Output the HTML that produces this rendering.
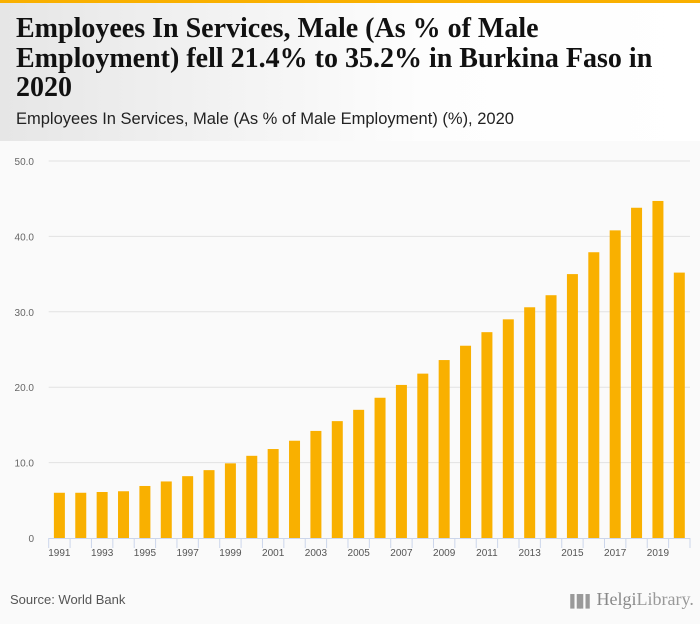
<!DOCTYPE html>
<html><head><meta charset="utf-8"><style>
body{margin:0;width:700px;height:624px;background:#fafafa;font-family:"Liberation Sans",sans-serif;overflow:hidden;position:relative}
#topbar{position:absolute;left:0;top:0;width:700px;height:3px;background:#f9b000}
#header{position:absolute;left:0;top:3px;width:700px;height:138px;background:linear-gradient(90deg,#e6e6e6,#fdfdfd 60%,#fff)}
#title{position:absolute;left:16px;top:14px;width:655px;font-family:"Liberation Serif",serif;font-weight:bold;font-size:28px;line-height:29.5px;color:#111}
#subtitle{position:absolute;left:16px;top:110px;font-size:16.5px;color:#222}
#source{position:absolute;left:10px;top:592px;font-size:13px;color:#555}
#logo{position:absolute;left:566px;top:589px;font-family:"Liberation Serif",serif;font-size:18px;color:#999;white-space:nowrap}
</style></head><body>
<div id="topbar"></div>
<div id="header"></div>
<div id="title">Employees In Services, Male (As % of Male Employment) fell 21.4% to 35.2% in Burkina Faso in 2020</div>
<div id="subtitle">Employees In Services, Male (As % of Male Employment) (%), 2020</div>
<svg id="chart" width="700" height="624" style="position:absolute;left:0;top:0"></svg>
<div id="source">Source: World Bank</div>
<div id="logo"><span style="font-size:12px;letter-spacing:-2px">▐▐▌▌</span> <span style="color:#888">Helgi</span>Library.</div>
<script>
const years=[1991,1992,1993,1994,1995,1996,1997,1998,1999,2000,2001,2002,2003,2004,2005,2006,2007,2008,2009,2010,2011,2012,2013,2014,2015,2016,2017,2018,2019,2020];
const values=[6.0,6.0,6.1,6.2,6.9,7.5,8.2,9.0,9.9,10.9,11.8,12.9,14.2,15.5,17.0,18.6,20.3,21.8,23.6,25.5,27.3,29.0,30.6,32.2,35.0,37.9,40.8,43.8,44.7,35.2];
const yTicks=[0,10,20,30,40,50];
const yTickLabels=["0","10.0","20.0","30.0","40.0","50.0"];
const svg=document.getElementById('chart');
const NS='http://www.w3.org/2000/svg';
const x0=48.7,x1=690,y0=538,yTop=161,yMax=50;
const step=(x1-x0)/years.length;
const X=i=>x0+step*(i+0.5);
const Y=v=>y0-(v/yMax)*(y0-yTop);
function mk(t,a){const e=document.createElementNS(NS,t);for(const k in a)e.setAttribute(k,a[k]);svg.appendChild(e);return e;}
yTicks.forEach((t,i)=>{
  if(t>0){const g=mk('line',{x1:x0,x2:x1,y1:Y(t),y2:Y(t),stroke:'#e2e2e2','stroke-width':1});
  
  }
  const l=mk('text',{x:34,y:Y(t)+4,'text-anchor':'end','font-size':10,fill:'#666','font-family':'Liberation Sans, sans-serif'});
  l.textContent=yTickLabels[i];
  
  
});
values.forEach((v,i)=>{
  const w=11;
  const r=mk('rect',{x:X(i)-w/2,y:Y(v),width:w,height:y0-Y(v),fill:'#f9b000'});
  
  
});
const ax=mk('line',{x1:x0,x2:x1,y1:y0+0.5,y2:y0+0.5,stroke:'#ccd6eb','stroke-width':1});


for(let i=0;i<=years.length;i++){
  const t=mk('line',{x1:x0+step*i,x2:x0+step*i,y1:y0,y2:y0+10,stroke:'#ccd6eb','stroke-width':1});
  
  
}
years.forEach((yr,i)=>{
  if(i%2)return;
  const l=mk('text',{x:X(i),y:y0+18,'text-anchor':'middle','font-size':10,fill:'#555','font-family':'Liberation Sans, sans-serif'});
  l.textContent=yr;
  
  
});
</script>
</body></html>
